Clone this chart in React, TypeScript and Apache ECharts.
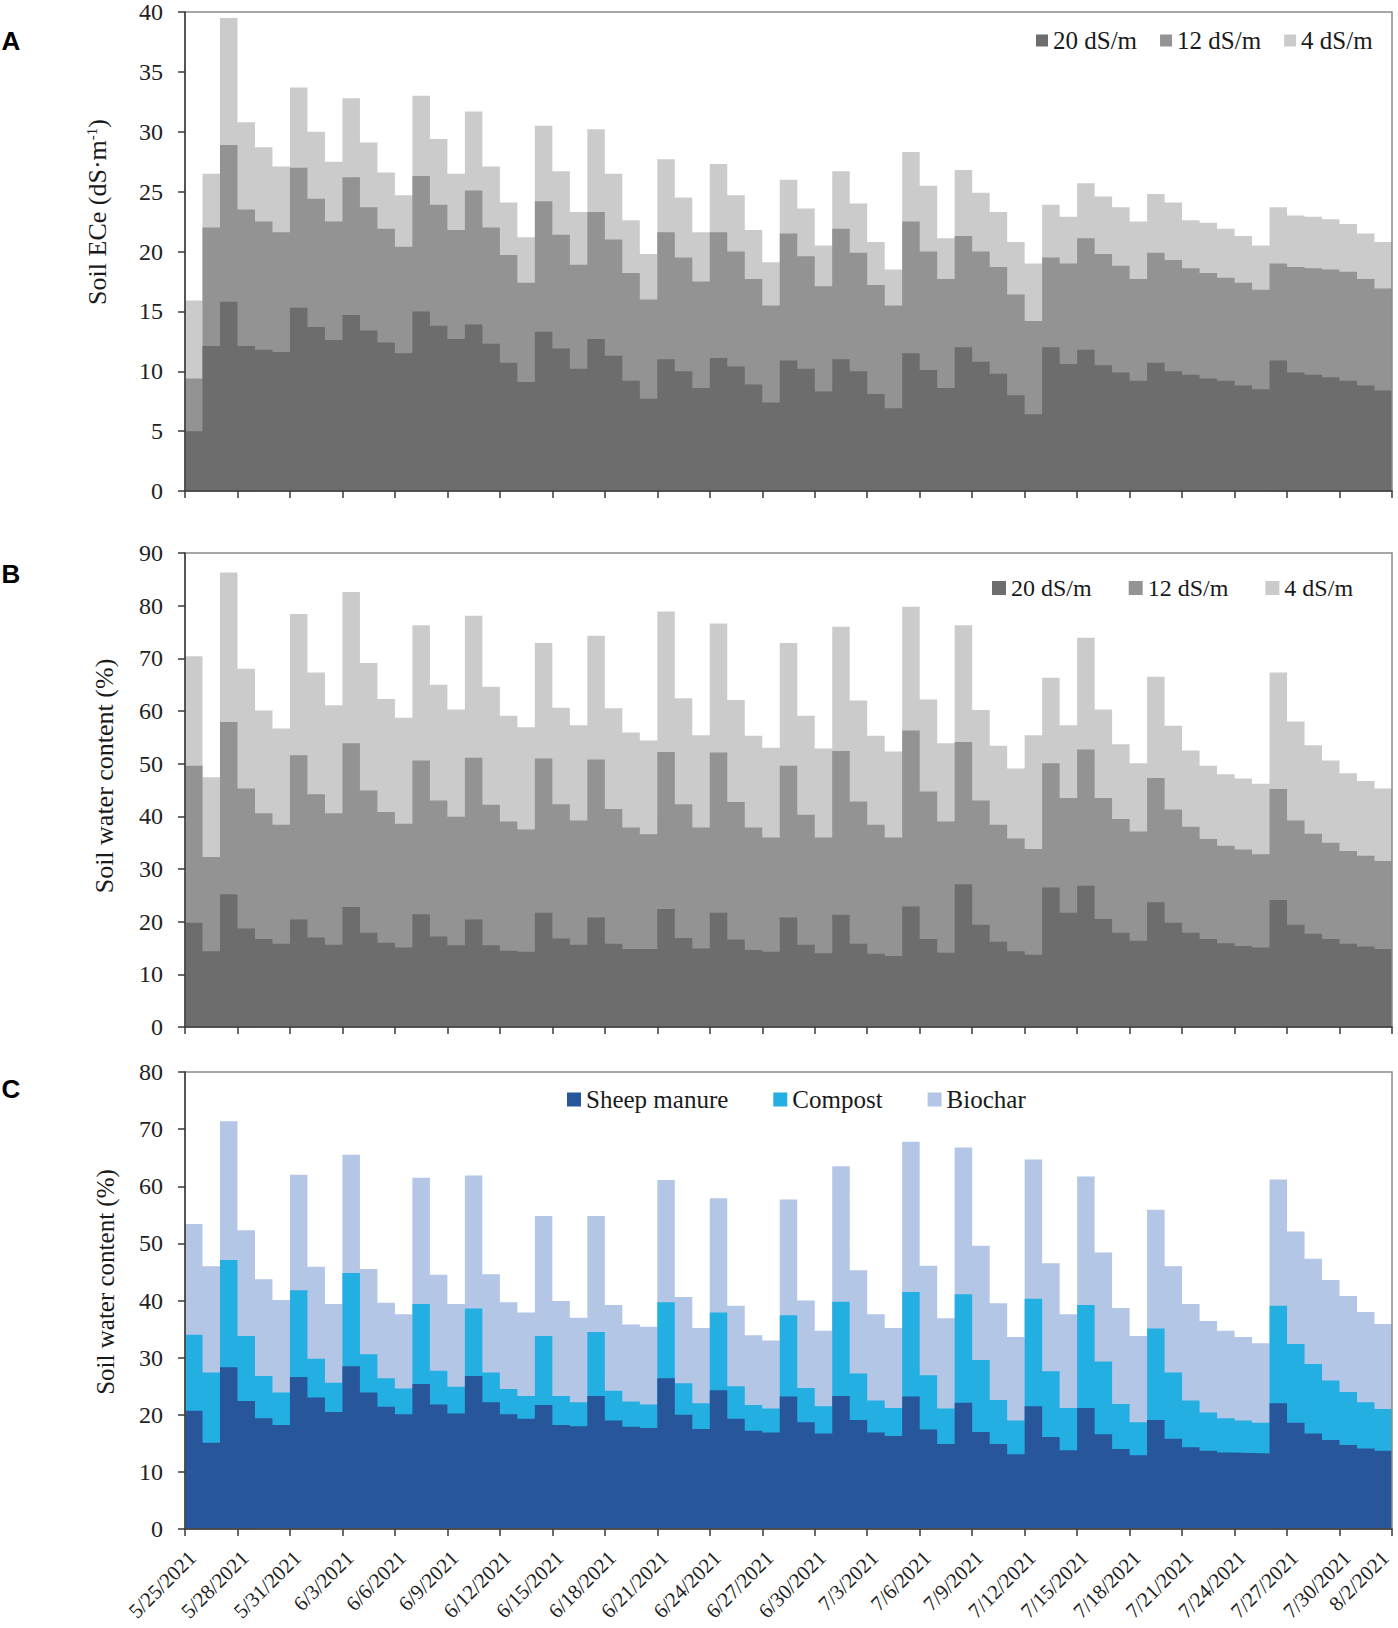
import React, { useEffect, useRef } from 'react';
import * as echarts from 'echarts';

// x tick labels (every 3 days, day index 0..69)
const tickLabels = [
  '5/25/2021', '5/28/2021', '5/31/2021', '6/3/2021', '6/6/2021', '6/9/2021',
  '6/12/2021', '6/15/2021', '6/18/2021', '6/21/2021', '6/24/2021', '6/27/2021',
  '6/30/2021', '7/3/2021', '7/6/2021', '7/9/2021', '7/12/2021', '7/15/2021',
  '7/18/2021', '7/21/2021', '7/24/2021', '7/27/2021', '7/30/2021', '8/2/2021',
];

const salinityNames = ['20 dS/m', '12 dS/m', '4 dS/m'];
const amendmentNames = ['Sheep manure', 'Compost', 'Biochar'];

// Panel A: soil ECe (dS/m), top of each band, one value per day (69 days)
const ece20 = [
  5.0, 12.1, 15.8, 12.1, 11.8, 11.6, 15.3, 13.7, 12.6, 14.7,
  13.4, 12.4, 11.5, 15.0, 13.8, 12.7, 13.9, 12.3, 10.7, 9.1,
  13.3, 11.9, 10.2, 12.7, 11.3, 9.2, 7.7, 11.0, 10.0, 8.6,
  11.1, 10.4, 8.9, 7.4, 10.9, 10.2, 8.3, 11.0, 10.0, 8.1,
  6.9, 11.5, 10.1, 8.6, 12.0, 10.8, 9.8, 8.0, 6.4, 12.0,
  10.6, 11.8, 10.5, 9.9, 9.2, 10.7, 10.0, 9.7, 9.4, 9.2,
  8.8, 8.5, 10.9, 9.9, 9.7, 9.5, 9.2, 8.8, 8.4,
];
const ece12 = [
  9.4, 22.0, 28.9, 23.5, 22.5, 21.6, 27.0, 24.4, 22.5, 26.2,
  23.7, 21.9, 20.4, 26.3, 23.9, 21.8, 25.1, 22.0, 19.7, 17.4,
  24.2, 21.4, 18.9, 23.3, 21.0, 18.2, 16.0, 21.6, 19.5, 17.5,
  21.6, 20.0, 17.7, 15.5, 21.5, 19.6, 17.1, 21.9, 19.9, 17.2,
  15.5, 22.5, 20.0, 17.7, 21.3, 20.0, 18.7, 16.4, 14.2, 19.5,
  19.0, 21.1, 19.8, 18.8, 17.7, 19.9, 19.3, 18.6, 18.2, 17.8,
  17.4, 16.8, 19.0, 18.7, 18.6, 18.5, 18.3, 17.7, 16.9,
];
const ece4 = [
  15.9, 26.5, 39.5, 30.8, 28.7, 27.1, 33.7, 30.0, 27.5, 32.8,
  29.1, 26.6, 24.7, 33.0, 29.4, 26.5, 31.7, 27.1, 24.1, 21.2,
  30.5, 26.7, 23.3, 30.2, 26.5, 22.6, 19.8, 27.7, 24.5, 21.6,
  27.3, 24.7, 21.8, 19.1, 26.0, 23.6, 20.5, 26.7, 24.0, 20.8,
  18.5, 28.3, 25.5, 21.1, 26.8, 24.9, 23.3, 20.8, 19.0, 23.9,
  22.9, 25.7, 24.6, 23.7, 22.5, 24.8, 24.1, 22.6, 22.4, 21.9,
  21.3, 20.5, 23.7, 23.0, 22.9, 22.7, 22.3, 21.5, 20.8,
];

// Panel B: soil water content (%) by salinity
const swc20 = [
  19.8, 14.4, 25.2, 18.7, 16.7, 15.8, 20.4, 17.0, 15.6, 22.8,
  17.9, 16.0, 15.1, 21.4, 17.2, 15.5, 20.4, 15.5, 14.5, 14.3,
  21.7, 16.8, 15.6, 20.8, 15.8, 14.8, 14.8, 22.4, 16.9, 14.9,
  21.7, 16.6, 14.6, 14.3, 20.8, 15.6, 14.0, 21.3, 15.8, 13.9,
  13.5, 22.9, 16.7, 14.1, 27.1, 19.4, 16.2, 14.4, 13.7, 26.5,
  21.7, 26.8, 20.5, 17.9, 16.4, 23.7, 19.8, 17.9, 16.7, 15.9,
  15.4, 15.1, 24.1, 19.4, 17.7, 16.7, 15.8, 15.3, 14.8,
];
const swc12 = [
  49.6, 32.3, 57.9, 45.3, 40.6, 38.4, 51.6, 44.2, 40.6, 53.9,
  44.9, 40.8, 38.6, 50.6, 43.0, 39.9, 51.1, 42.2, 39.0, 37.5,
  51.0, 42.3, 39.2, 50.8, 41.4, 37.9, 36.6, 52.2, 42.3, 37.9,
  52.1, 42.7, 37.9, 36.0, 49.6, 40.3, 36.0, 52.4, 42.8, 38.4,
  36.0, 56.3, 44.7, 39.0, 54.1, 43.0, 38.4, 35.8, 33.8, 50.1,
  43.5, 52.7, 43.5, 39.5, 37.1, 47.3, 41.3, 38.0, 35.7, 34.4,
  33.7, 32.8, 45.2, 39.2, 36.7, 35.0, 33.4, 32.5, 31.5,
];
const swc4 = [
  70.4, 47.4, 86.3, 68.0, 60.1, 56.7, 78.4, 67.3, 61.1, 82.6,
  69.1, 62.3, 58.7, 76.3, 65.0, 60.3, 78.1, 64.6, 59.1, 56.9,
  72.9, 60.6, 57.3, 74.3, 60.5, 55.9, 54.4, 78.9, 62.4, 55.4,
  76.6, 62.1, 55.3, 53.0, 72.9, 59.1, 52.9, 76.0, 62.0, 55.3,
  52.3, 79.8, 62.2, 53.9, 76.3, 60.2, 53.4, 49.1, 55.4, 66.3,
  57.3, 73.9, 60.3, 53.7, 50.1, 66.5, 57.2, 52.5, 49.6, 48.0,
  47.2, 46.2, 67.3, 58.0, 53.5, 50.6, 48.2, 46.7, 45.3,
];

// Panel C: soil water content (%) by amendment
const swcSheep = [
  20.7, 15.1, 28.3, 22.4, 19.4, 18.2, 26.6, 23.0, 20.5, 28.5,
  23.9, 21.4, 20.1, 25.4, 21.8, 20.2, 26.8, 22.2, 20.1, 19.3,
  21.7, 18.2, 18.0, 23.3, 19.0, 17.9, 17.7, 26.4, 20.0, 17.5,
  24.3, 19.3, 17.2, 16.9, 23.2, 18.7, 16.7, 23.3, 19.1, 16.9,
  16.3, 23.2, 17.4, 14.9, 22.1, 17.0, 14.9, 13.1, 21.5, 16.1,
  13.8, 21.2, 16.6, 14.0, 12.9, 19.1, 15.8, 14.3, 13.7, 13.4,
  13.3, 13.2, 22.0, 18.6, 16.7, 15.6, 14.7, 14.1, 13.7,
];
const swcCompost = [
  34.0, 27.4, 47.1, 33.8, 26.8, 23.9, 41.8, 29.8, 25.6, 44.8,
  30.6, 26.4, 24.6, 39.4, 27.7, 24.9, 38.6, 27.4, 24.5, 23.3,
  33.8, 23.3, 22.2, 34.5, 24.2, 22.3, 21.8, 39.7, 25.5, 22.0,
  37.9, 25.0, 21.7, 21.1, 37.4, 24.7, 21.5, 39.8, 27.2, 22.5,
  21.2, 41.5, 26.9, 21.1, 41.1, 29.6, 22.6, 19.0, 40.3, 27.6,
  21.2, 39.2, 29.3, 21.9, 18.7, 35.1, 27.4, 22.5, 20.4, 19.4,
  19.0, 18.6, 39.1, 32.4, 28.9, 26.0, 24.0, 22.2, 21.0,
];
const swcBiochar = [
  53.4, 46.0, 71.4, 52.3, 43.7, 40.1, 62.0, 45.9, 39.4, 65.5,
  45.5, 39.6, 37.6, 61.5, 44.5, 39.4, 61.9, 44.6, 39.7, 37.9,
  54.8, 39.9, 37.0, 54.8, 39.2, 35.8, 35.4, 61.1, 40.6, 35.2,
  57.9, 39.1, 33.9, 33.0, 57.7, 40.0, 34.7, 63.5, 45.3, 37.6,
  35.2, 67.8, 46.1, 36.9, 66.8, 49.6, 39.5, 33.6, 64.7, 46.5,
  37.6, 61.7, 48.4, 38.7, 33.8, 55.9, 46.0, 39.4, 36.4, 34.7,
  33.6, 32.5, 61.2, 52.1, 47.3, 43.6, 40.8, 38.0, 35.9,
];

const grays = ['#6d6d6d', '#939393', '#cbcbcb'];
const blues = ['#27569a', '#24afe3', '#b4c6e5'];

const SERIF = 'Liberation Serif';

// each day's value spans [i, i+1]; closing point repeats the last day's value
const stepPoints = (vals: number[]) => {
  const pts: number[][] = vals.map((v, i) => [i, v]);
  pts.push([vals.length, vals[vals.length - 1]]);
  return pts;
};

const areaSeries = (name: string, vals: number[], color: string, idx: number) => ({
  type: 'line',
  name,
  xAxisIndex: idx,
  yAxisIndex: idx,
  data: stepPoints(vals),
  step: 'end',
  symbol: 'none',
  showSymbol: false,
  lineStyle: { width: 0, color },
  itemStyle: { color },
  areaStyle: { color, opacity: 1 },
  emphasis: { disabled: true },
  silent: true,
  z: 2,
});

const grids = [
  { left: 185, top: 12, width: 1207, height: 479 },
  { left: 185, top: 553, width: 1207, height: 474 },
  { left: 185, top: 1072, width: 1207, height: 457 },
];
const yMax = [40, 90, 80];
const yInterval = [5, 10, 10];
const xMax = 69;

export default function App() {
  const ref = useRef<HTMLDivElement>(null);

  useEffect(() => {
    if (!ref.current) return;
    const chart = echarts.init(ref.current, undefined, { renderer: 'svg' });

    const axisColor = '#3a3a3a';
    const legendText = { fontFamily: SERIF, color: '#1a1a1a' };

    const option: any = {
      animation: false,
      backgroundColor: '#ffffff',
      grid: grids.map((g) => ({
        ...g,
        show: true,
        z: 10,
        backgroundColor: 'rgba(0,0,0,0)',
        borderColor: '#8a8a8a',
        borderWidth: 1.5,
        containLabel: false,
        outerBoundsMode: 'none',
      })),
      xAxis: grids.map((_, i) => ({
        type: 'value',
        gridIndex: i,
        min: 0,
        max: xMax,
        interval: 3,
        z: 11,
        splitLine: { show: false },
        axisLine: { show: true, onZero: false, lineStyle: { color: axisColor, width: 1.5 } },
        axisTick: { show: true, length: 7, lineStyle: { color: axisColor, width: 1.5 } },
        axisLabel:
          i === 2
            ? {
                show: true,
                rotate: 45,
                margin: 18,
                align: 'right',
                verticalAlign: 'top',
                fontSize: 21,
                fontFamily: SERIF,
                color: '#222',
                showMinLabel: true,
                showMaxLabel: true,
                formatter: (v: number) => {
                  const s = tickLabels[Math.round(v / 3)] ?? '';
                  // pull the last label slightly inside the page edge
                  return v === xMax ? `{e|${s}}` : s;
                },
                rich: {
                  e: {
                    fontSize: 21,
                    fontFamily: SERIF,
                    color: '#222',
                    padding: [0, 10, 0, 0],
                    lineHeight: 1,
                  },
                },
              }
            : { show: false },
      })),
      yAxis: grids.map((_, i) => ({
        type: 'value',
        gridIndex: i,
        min: 0,
        max: yMax[i],
        interval: yInterval[i],
        z: 11,
        splitLine: { show: false },
        axisLine: { show: true, lineStyle: { color: axisColor, width: 1.5 } },
        axisTick: { show: true, length: 7, lineStyle: { color: axisColor, width: 1.5 } },
        axisLabel: {
          show: true,
          margin: 22,
          fontSize: 24,
          fontFamily: SERIF,
          color: '#222',
          showMinLabel: true,
          showMaxLabel: true,
        },
      })),
      legend: [
        {
          left: 1036,
          top: 28,
          padding: 0,
          icon: 'rect',
          itemWidth: 12,
          itemHeight: 12,
          itemGap: 23,
          selectedMode: false,
          textStyle: { ...legendText, fontSize: 25 },
          itemStyle: { borderWidth: 0 },
          data: salinityNames.map((n, k) => ({ name: n, itemStyle: { color: grays[k] } })),
        },
        {
          left: 992,
          top: 576,
          padding: 0,
          icon: 'rect',
          itemWidth: 14,
          itemHeight: 14,
          itemGap: 37,
          selectedMode: false,
          textStyle: { ...legendText, fontSize: 24 },
          itemStyle: { borderWidth: 0 },
          data: salinityNames.map((n, k) => ({ name: n, itemStyle: { color: grays[k] } })),
        },
        {
          left: 567,
          top: 1087,
          padding: 0,
          icon: 'rect',
          itemWidth: 14,
          itemHeight: 14,
          itemGap: 45,
          selectedMode: false,
          textStyle: { ...legendText, fontSize: 25 },
          itemStyle: { borderWidth: 0 },
          data: amendmentNames.map((n, k) => ({ name: n, itemStyle: { color: blues[k] } })),
        },
      ],
      graphic: [
        { type: 'text', x: 11, y: 41, style: { text: 'A', fontSize: 26, fontWeight: 'bold', fontFamily: 'Liberation Sans', fill: '#000', align: 'center', verticalAlign: 'middle' } },
        { type: 'text', x: 11, y: 574, style: { text: 'B', fontSize: 26, fontWeight: 'bold', fontFamily: 'Liberation Sans', fill: '#000', align: 'center', verticalAlign: 'middle' } },
        { type: 'text', x: 11, y: 1089, style: { text: 'C', fontSize: 26, fontWeight: 'bold', fontFamily: 'Liberation Sans', fill: '#000', align: 'center', verticalAlign: 'middle' } },
        {
          type: 'text',
          x: 97,
          y: 212,
          rotation: Math.PI / 2,
          style: {
            text: '{a|Soil ECe (dS·m}{s|-1}{a|)}',
            align: 'center',
            verticalAlign: 'middle',
            fill: '#1a1a1a',
            rich: {
              a: { fontSize: 26, fontFamily: SERIF, fill: '#1a1a1a' },
              s: { fontSize: 15, fontFamily: SERIF, fill: '#1a1a1a', verticalAlign: 'top' },
            },
          },
        },
        {
          type: 'text',
          x: 104,
          y: 776,
          rotation: Math.PI / 2,
          style: { text: 'Soil water content (%)', fontSize: 26, fontFamily: SERIF, fill: '#1a1a1a', align: 'center', verticalAlign: 'middle' },
        },
        {
          type: 'text',
          x: 105,
          y: 1282,
          rotation: Math.PI / 2,
          style: { text: 'Soil water content (%)', fontSize: 25, fontFamily: SERIF, fill: '#1a1a1a', align: 'center', verticalAlign: 'middle' },
        },
      ],
      series: [
        areaSeries(salinityNames[2], ece4, grays[2], 0),
        areaSeries(salinityNames[1], ece12, grays[1], 0),
        areaSeries(salinityNames[0], ece20, grays[0], 0),
        areaSeries(salinityNames[2], swc4, grays[2], 1),
        areaSeries(salinityNames[1], swc12, grays[1], 1),
        areaSeries(salinityNames[0], swc20, grays[0], 1),
        areaSeries(amendmentNames[2], swcBiochar, blues[2], 2),
        areaSeries(amendmentNames[1], swcCompost, blues[1], 2),
        areaSeries(amendmentNames[0], swcSheep, blues[0], 2),
      ],
    };

    chart.setOption(option);
    return () => chart.dispose();
  }, []);

  return (
    <div
      ref={ref}
      style={{ position: 'absolute', left: 0, top: 0, width: 1398, height: 1628 }}
    />
  );
}
